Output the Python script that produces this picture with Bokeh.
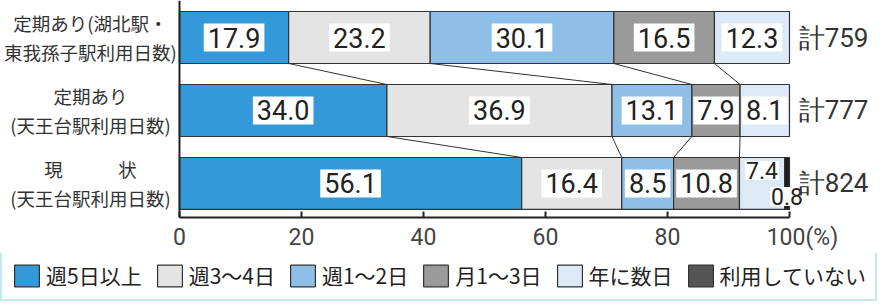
import numpy as np
from bokeh.plotting import figure
from bokeh.layouts import column
from bokeh.models import Range1d, FixedTicker, Span, Legend, LegendItem, ColumnDataSource
from bokeh.core.properties import value
from bokeh.embed import file_html
from bokeh.resources import INLINE

# ---- data ----
rows = ["定期あり(湖北駅・\n東我孫子駅利用日数)", "定期あり\n(天王台駅利用日数)", "現　　　状\n(天王台駅利用日数)"]
totals = ["計759", "計777", "計824"]
categories = ["週5日以上", "週3～4日", "週1～2日", "月1～3日", "年に数日", "利用していない"]
week5 = [17.9, 34.0, 56.1]
week34 = [23.2, 36.9, 16.4]
week12 = [30.1, 13.1, 8.5]
month13 = [16.5, 7.9, 10.8]
yearfew = [12.3, 8.1, 7.4]
unused = [0.0, 0.0, 0.8]
ticks = [0, 20, 40, 60, 80, 100]
tick_labels = {100: "\u2007\u2007100(%)"}

series = [week5, week34, week12, month13, yearfew, unused]
colors = ["#3399d9", "#e4e4e4", "#8dbfe9", "#9a9a9a", "#dce9f6", "#1e1e1e"]
legend_colors = ["#3399d9", "#e4e4e4", "#8dbfe9", "#9a9a9a", "#dce9f6", "#555555"]
ys = [3, 2, 1]
BAR_H = 0.712

NUM_FONT_NAME = "Roboto"
JP_FONT_NAME = "Noto Sans CJK JP"
NUM_FONT = value(NUM_FONT_NAME)
JP_FONT = value(JP_FONT_NAME)

p = figure(frame_width=883, frame_height=217, x_range=Range1d(-29.34, 115.41), y_range=Range1d(0.534, 3.507),
           output_backend="svg", toolbar_location=None, y_axis_location=None, min_border=0)
p.grid.visible = False
p.outline_line_color = None

vals = np.array(series)            # shape (cat, row)
cum = np.cumsum(vals, axis=0)
starts = cum - vals

lab_x, lab_y, lab_t = [], [], []
sm_x, sm_y, sm_t = [], [], []
for k, cat in enumerate(categories):
    sel = [r for r in range(3) if vals[k, r] > 0]
    src = ColumnDataSource(dict(y=[ys[r] for r in sel], left=[starts[k, r] for r in sel],
                                right=[cum[k, r] for r in sel]))
    p.hbar(y="y", left="left", right="right", height=BAR_H, source=src,
           fill_color=colors[k], line_color="#333333", line_width=1.2)
    for r in sel:
        v = vals[k, r]
        cx = (starts[k, r] + cum[k, r]) / 2
        if v < 7.5:
            sm_x.append(cx); sm_y.append(ys[r]); sm_t.append(f"{v:.1f}")
        else:
            lab_x.append(cx); lab_y.append(ys[r]); lab_t.append(f"{v:.1f}")

sm_off = [-13 if i % 2 == 0 else 13 for i in range(len(sm_t))]

# connecting lines between bars
x0, y0, x1, y1 = [], [], [], []
for k in range(4):
    for r in range(2):
        x0.append(cum[k, r]); y0.append(ys[r] - BAR_H / 2)
        x1.append(cum[k, r + 1]); y1.append(ys[r + 1] + BAR_H / 2)
p.segment(x0=x0, y0=y0, x1=x1, y1=y1, line_color="#333333", line_width=1)

p.text(x=lab_x, y=lab_y, text=lab_t, text_font=NUM_FONT, text_font_size="27px",
       text_align="center", text_baseline="middle", text_color="#222222",
       background_fill_color="white", padding=4)
p.text(x=sm_x, y=sm_y, text=sm_t, y_offset=sm_off, text_font=NUM_FONT, text_font_size="23px",
       text_align="center", text_baseline="middle", text_color="#222222",
       background_fill_color="white", padding=1)

# row labels and totals
p.text(x=[-14.6] * 3, y=ys, text=rows, text_font=JP_FONT, text_font_size="18.5px",
       text_align="center", text_baseline="middle", text_line_height=1.08, text_color="#333333")
p.text(x=[101.5] * 3, y=ys, text=totals, text_font=NUM_FONT, text_font_size="26px",
       text_align="left", text_baseline="middle", text_color="#333333")

p.add_layout(Span(location=0, dimension="height", line_color="#222222", line_width=2))

ax = p.xaxis[0]
ax.bounds = (0, 100)
ax.ticker = FixedTicker(ticks=ticks)
ax.major_label_overrides = tick_labels
ax.axis_line_color = "#222222"
ax.axis_line_width = 2
ax.major_tick_in = 6
ax.major_tick_out = 0
ax.major_tick_line_width = 2
ax.major_tick_line_color = "#222222"
ax.minor_tick_line_color = None
ax.major_label_text_font = NUM_FONT_NAME
ax.major_label_text_font_size = "23px"
ax.major_label_text_color = "#444444"
ax.major_label_standoff = 6

# legend figure (swatch renderers sit outside the visible range)
p2 = figure(width=883, height=48, x_range=Range1d(0, 1), y_range=Range1d(0, 1),
            output_backend="svg", toolbar_location=None, min_border=0)
p2.axis.visible = False
p2.grid.visible = False
p2.outline_line_color = None
dummies = []
for k, cat in enumerate(categories):
    d = p2.hbar(y=[-5], left=[0], right=[0.1], height=1, fill_color=legend_colors[k],
                line_color="#333333", line_width=1.2)
    dummies.append(d)

legend = Legend(items=[LegendItem(label=c, renderers=[dummies[i]]) for i, c in enumerate(categories)],
                orientation="horizontal", location=(0, 0),
                label_text_font=JP_FONT_NAME, label_text_font_size="21px", label_text_color="#222222",
                glyph_width=31, glyph_height=27, label_standoff=4, spacing=12, padding=9, margin=0,
                border_line_color="#8fd0e2", border_line_width=2)
p2.add_layout(legend)

open("out.html", "w").write(file_html(column(p, p2, spacing=0), INLINE))
